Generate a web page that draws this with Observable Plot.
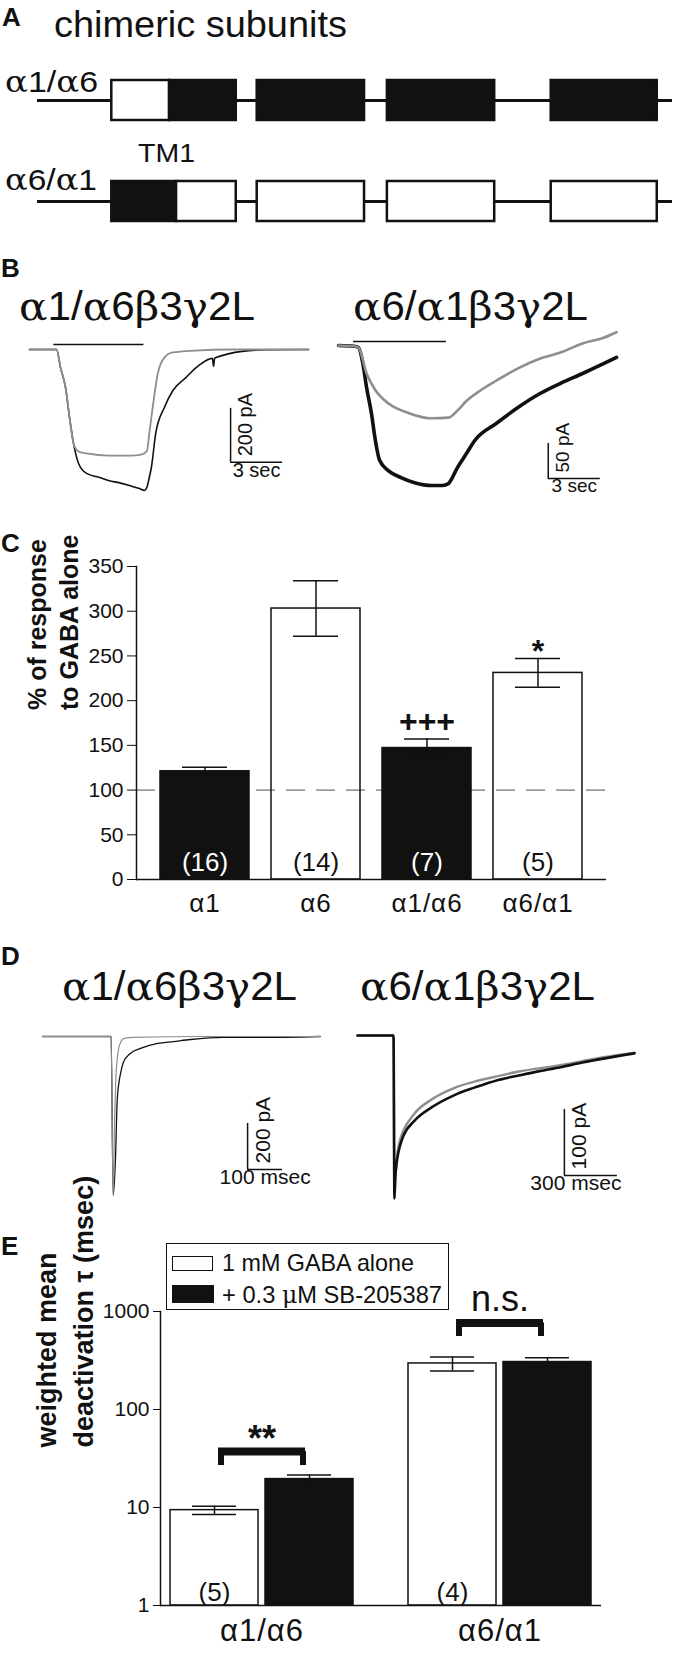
<!DOCTYPE html>
<html><head><meta charset="utf-8">
<script src="https://cdn.jsdelivr.net/npm/d3@7"></script>
<script src="https://cdn.jsdelivr.net/npm/@observablehq/plot@0.6"></script>
<style>
body{margin:0;background:#fff;}
#fig{position:relative;width:676px;height:1653px;font-family:"Liberation Sans",Arial,Helvetica,sans-serif;color:#111;overflow:hidden;background:#fff;}
.t{position:absolute;white-space:nowrap;line-height:1;transform-origin:0 0;}
.b{font-weight:bold;}
.g{font-family:"DejaVu Serif","Liberation Serif",serif;}
.pl{position:absolute;}
g[aria-label="x-axis tick label"] text{letter-spacing:1px;}
</style></head><body><div id="fig"></div>
<script>
// ================= DATA =================
// Panel A: chimeric subunit schematic (position along subunit, 0-100)
const subunitRows = ["α1/α6", "α6/α1"];
const subunitSpan = [0, 100];
const segRow    = ["α1/α6","α1/α6","α1/α6","α1/α6","α1/α6","α6/α1","α6/α1","α6/α1","α6/α1","α6/α1"];
const segStart  = [11.7, 20.8, 34.6, 55.1, 80.9, 11.7, 21.9, 34.6, 55.1, 80.9];
const segEnd    = [20.8, 31.3, 51.5, 72.0, 97.6, 21.9, 31.3, 51.5, 72.0, 97.6];
const segOrigin = ["α1","α6","α6","α6","α6","α6","α1","α1","α1","α1"];

// Panel B: current traces [time s, current pA]
const bLeftGABA = [[0,0],[1.56,0],[1.79,-67],[2.08,-141],[2.31,-252],[2.54,-348],[2.7,-370],[2.9,-380],[3.29,-385],[4.56,-393],[5.83,-393],[6.5,-388],[6.78,-375],[6.91,-311],[7.16,-189],[7.40,-89],[7.78,-30],[8.27,-11],[9.52,-4],[11.6,0],[16.1,0]];
const bLeftSB   = [[0,0],[1.56,0],[1.79,-67],[2.08,-141],[2.31,-252],[2.54,-348],[2.83,-422],[3.29,-459],[4.0,-473],[4.56,-485],[5.2,-494],[5.77,-504],[6.3,-514],[6.64,-522],[6.8,-505],[6.91,-474],[7.03,-437],[7.28,-311],[7.78,-215],[8.27,-152],[9.02,-104],[9.77,-59],[10.55,-33],[10.62,-62],[10.68,-32],[10.76,-30],[12.26,-7],[13.7,-1],[16.1,0]];
const bRightGABA = [[0,0],[0.9,-1],[1.15,-3],[1.62,-40],[2.13,-64],[2.89,-83],[4.10,-97],[5.37,-104],[6.35,-103],[6.9,-92],[7.39,-79],[8.2,-64],[9.12,-50],[10.33,-33],[11.6,-19],[12.81,-10],[14.08,3],[15.29,11],[16.04,19]];
const bRightSB   = [[0,0],[0.9,-1],[1.15,-3],[1.4,-25],[1.62,-60],[1.90,-97],[2.13,-136],[2.37,-164],[2.89,-179],[3.64,-189],[4.39,-196],[5.37,-200],[6.0,-200],[6.35,-197],[6.87,-174],[7.39,-154],[7.85,-136],[9.12,-111],[10.33,-89],[11.6,-69],[12.81,-54],[14.08,-40],[15.29,-26],[16.04,-17]];
const bLeftStim  = [{start: 1.4, end: 6.6}];
const bRightStim = [{start: 0.87, end: 6.23}];
const bLeftScale  = {t0: 11.6, i0: -418, dt: 3, di: 200, tLabel: "3 sec", iLabel: "200 pA"};
const bRightScale = {t0: 12.1, i0: -190, dt: 3, di: 50, tLabel: "3 sec", iLabel: "50 pA"};

// Panel C: % of response to GABA alone
const cSubunits = ["α1", "α6", "α1/α6", "α6/α1"];
const cPotentiation = [121, 303, 147, 231];
const cSEM = [4.5, 31, 10, 16];
const cN = ["(16)", "(14)", "(7)", "(5)"];
const cSig = ["", "", "+++", "*"];
const cNterm = ["α1", "α6", "α1", "α6"];
const cTicks = [0, 50, 100, 150, 200, 250, 300, 350];

// Panel D: deactivation traces [time ms, current pA]
const dLeftGABA = [[0,0],[196,0],[202,-691],[206,-365],[209,-200],[213,-104],[218,-50],[223,-26],[231,-9],[260,-4],[451,0],[794,0]];
const dLeftSB   = [[0,0],[196,0],[202,-691],[209,-509],[213,-291],[218,-205],[223,-161],[231,-113],[251,-74],[280,-52],[329,-30],[374,-22],[423,-13],[517,-4],[614,-4],[794,0]];
const dRightGABA = [[0,0],[204,0],[209,-247],[214,-215],[221,-190],[226,-178],[243,-156],[260,-144],[323,-118],[419,-97],[543,-80],[662,-70],[787,-62],[906,-55],[1149,-45],[1392,-33],[1568,-26]];
const dRightSB   = [[0,0],[204,0],[209,-247],[214,-215],[221,-195],[226,-185],[243,-165],[260,-152],[323,-129],[419,-109],[543,-91],[662,-79],[787,-68],[906,-61],[1030,-54],[1149,-48],[1273,-41],[1392,-35],[1568,-27]];
const dLeftScale  = {t0: 586, i0: -578, dt: 100, di: 200, tLabel: "100 msec", iLabel: "200 pA"};
const dRightScale = {t0: 1171, i0: -212, dt: 300, di: 100, tLabel: "300 msec", iLabel: "100 pA"};

// Panel E: weighted mean deactivation tau (msec)
const eSubunits = ["α1/α6", "α6/α1"];
const eConditions = ["1 mM GABA alone", "+ 0.3 μM SB-205387"];
const eTauGABA = [9.4, 295];
const eSemGABA = [0.9, 48];
const eTauSB = [19.5, 305];
const eSemSB = [2.0, 32];
const eN = ["(5)", "(4)"];
const eSig = ["**", "n.s."];
const eBracketTop = [37.3, 763];
const eBracketLeg = [26.8, 556];
const eTicks = [1, 10, 100, 1000];

// ================= DRAWING =================
const FONT = '"Liberation Sans", Arial, Helvetica, sans-serif';
const INK = "#111";
const GRAY = "#8e8e8e";
const fig = document.getElementById("fig");
const gk = s => s.replace(/[αβγμτ]/g, m => `<span class="g">${m}</span>`);

function label(html, x, base, size, cls = "", width = null) {
  const d = document.createElement("div");
  d.className = "t " + cls;
  d.innerHTML = html;
  d.style.left = x + "px";
  d.style.top = (base - 0.846 * size) + "px";
  d.style.fontSize = size + "px";
  fig.appendChild(d);
  if (width) {
    const w = d.getBoundingClientRect().width;
    if (w > 0) d.style.transform = `scaleX(${width / w})`;
  }
  return d;
}
function place(svg, left, top) {
  svg.classList.add("pl");
  svg.style.left = left + "px";
  svg.style.top = top + "px";
  fig.appendChild(svg);
}
const baseStyle = {fontFamily: FONT, background: "transparent", overflow: "visible", color: INK};

// ---- Panel A ----
label("A", 2, 26, 26, "b");
label("chimeric subunits", 54, 37, 37, "", 293);
label(gk(subunitRows[0]), 5, 92, 30, "", 93);
label(gk(subunitRows[1]), 5, 190, 30, "", 92);
label("TM1", 138, 162, 25, "", 57);

const segments = segRow.map((r, i) => ({row: r, start: segStart[i], end: segEnd[i], origin: segOrigin[i]}));
place(Plot.plot({
  width: 676, height: 200,
  style: baseStyle,
  x: {domain: [0, 100], range: [37, 672], axis: null},
  y: {type: "band", domain: subunitRows, range: [30, 171], paddingInner: 0.604, paddingOuter: 0, axis: null},
  color: {domain: ["α1", "α6"], range: ["white", INK]},
  marks: [
    Plot.ruleY(subunitRows, {y: d => d, x1: subunitSpan[0], x2: subunitSpan[1], stroke: INK, strokeWidth: 3}),
    Plot.barX(segments, {x1: "start", x2: "end", y: "row", fill: "origin", stroke: INK, strokeWidth: 2.5})
  ]
}), 0, 50);

// ---- Trace plots (B, D) ----
function tracePlot(c) {
  const sb = c.scale;
  const marks = [];
  if (c.stim) marks.push(Plot.ruleY(c.stim, {y: 0, x1: "start", x2: "end", dy: c.stimDy, stroke: INK, strokeWidth: 1.5}));
  const lines = [
    Plot.line(c.sb, {x: d => d[0], y: d => d[1], stroke: INK, strokeWidth: c.bw, curve: "monotone-x"}),
    Plot.line(c.gaba, {x: d => d[0], y: d => d[1], stroke: GRAY, strokeWidth: c.gw, curve: "monotone-x"})
  ];
  if (c.blackOnTop) lines.reverse();
  marks.push(...lines);
  marks.push(
    Plot.ruleX([sb], {x: "t0", y1: "i0", y2: d => d.i0 + d.di, stroke: INK, strokeWidth: 1.5}),
    Plot.ruleY([sb], {y: "i0", x1: "t0", x2: d => d.t0 + d.dt, stroke: INK, strokeWidth: 1.5}),
    Plot.text([sb], {x: "t0", y: "i0", text: "iLabel", rotate: -90, textAnchor: "start", lineAnchor: "top", dx: 7, dy: -6, fontSize: c.fs, fill: INK}),
    Plot.text([sb], {x: d => d.t0 + d.dt / 2, y: "i0", text: "tLabel", lineAnchor: "top", dx: c.tdx || 0, dy: 0, fontSize: c.fs, fill: INK})
  );
  return Plot.plot({
    width: c.width, height: c.height, style: baseStyle,
    x: {domain: c.xDomain, range: c.xRange, axis: null},
    y: {domain: c.yDomain, range: c.yRange, axis: null},
    marks
  });
}

label("B", 1, 277, 26, "b");
label(gk("α1/α6β3γ2L"), 19, 320, 40, "", 236);
label(gk("α6/α1β3γ2L"), 353, 320, 40, "", 235);
place(tracePlot({width: 330, height: 190, xDomain: [0, 17], xRange: [29, 323.7], yDomain: [-600, 100], yRange: [191, 2],
  gaba: bLeftGABA, sb: bLeftSB, stim: bLeftStim, stimDy: -5, scale: bLeftScale, bw: 1.6, gw: 1.8, fs: 20}), 0, 320);
place(tracePlot({width: 346, height: 190, xDomain: [0, 18], xRange: [8, 320], yDomain: [-240, 40], yRange: [193, -3],
  gaba: bRightGABA, sb: bRightSB, stim: bRightStim, stimDy: -4, scale: bRightScale, bw: 3.6, gw: 2.6, fs: 19}), 330, 320);

// ---- Panel C ----
label("C", 1, 552, 26, "b");
const cData = cSubunits.map((s, i) => ({s, v: cPotentiation[i], e: cSEM[i], n: cN[i], sig: cSig[i], nterm: cNterm[i]}));
place(Plot.plot({
  width: 676, height: 410, style: baseStyle,
  marginLeft: 136, marginRight: 70, marginTop: 46, marginBottom: 51,
  x: {domain: cSubunits, padding: 0.2},
  y: {domain: [0, 350]},
  color: {domain: ["α1", "α6"], range: [INK, "transparent"]},
  marks: [
    Plot.ruleY([100], {stroke: "#9a9a9a", strokeWidth: 1.8, strokeDasharray: "19,11"}),
    Plot.barY(cData, {x: "s", y: "v", fill: "nterm", stroke: INK, strokeWidth: 1.5}),
    Plot.ruleX(cData, {x: "s", y1: d => d.v - d.e, y2: d => d.v + d.e, stroke: INK, strokeWidth: 1.5}),
    Plot.tickY(cData, {x: "s", y: d => d.v + d.e, insetLeft: 22, insetRight: 22, stroke: INK, strokeWidth: 1.5}),
    Plot.tickY(cData, {x: "s", y: d => d.v - d.e, insetLeft: 22, insetRight: 22, stroke: INK, strokeWidth: 1.5}),
    Plot.text(cData, {x: "s", y: 0, dy: -17, text: "n", fill: d => d.nterm === "α1" ? "white" : INK, fontSize: 26}),
    Plot.text(cData, {x: "s", y: d => d.v + d.e, dy: -17, text: "sig", filter: d => d.sig === "+++", fontSize: 32, fontWeight: "bold", fill: INK}),
    Plot.text(cData, {x: "s", y: d => d.v + d.e, dy: -7, text: "sig", filter: d => d.sig === "*", fontSize: 32, fontWeight: "bold", fill: INK}),
    Plot.ruleY([0], {stroke: INK, strokeWidth: 1.5}),
    Plot.frame({anchor: "left", stroke: INK, strokeWidth: 1.5}),
    Plot.axisY({ticks: cTicks, tickFormat: d => String(d), tickSize: 9, tickPadding: 4, fontSize: 21, label: null, stroke: INK}),
    Plot.axisX({tickSize: 0, tickPadding: 14, fontSize: 26, label: null}),
    Plot.text(["% of response\nto GABA alone"], {text: d => d, frameAnchor: "left", rotate: -90, dx: -85, dy: -13, fontSize: 25, fontWeight: "bold", lineHeight: 1.28, fill: INK})
  ]
}), 0, 520);

// ---- Panel D ----
label("D", 1, 965, 26, "b");
label(gk("α1/α6β3γ2L"), 62, 1000, 40, "", 235);
label(gk("α6/α1β3γ2L"), 360, 1000, 40, "", 235);
place(tracePlot({width: 340, height: 200, xDomain: [0, 800], xRange: [42, 322], yDomain: [-760, 60], yRange: [190.8, 2.2],
  gaba: dLeftGABA, sb: dLeftSB, scale: dLeftScale, bw: 1.3, gw: 1.2, fs: 21}), 0, 1020);
place(tracePlot({width: 336, height: 200, xDomain: [0, 1800], xRange: [17, 335], yDomain: [-270, 20], yRange: [193.2, 1.8],
  gaba: dRightGABA, sb: dRightSB, scale: dRightScale, bw: 2.6, gw: 2.4, fs: 21, tdx: -15, blackOnTop: true}), 340, 1020);

// ---- Panel E ----
label("E", 1, 1255, 26, "b");
const eGABA = eSubunits.map((s, i) => ({s, v: eTauGABA[i], e: eSemGABA[i], n: eN[i]}));
const eSB = eSubunits.map((s, i) => ({s, v: eTauSB[i], e: eSemSB[i]}));
const eBr = eSubunits.map((s, i) => ({s, top: eBracketTop[i], leg: eBracketLeg[i], sig: eSig[i]}));
const OFF = 47.5;
const errMarks = (data, dx) => [
  Plot.ruleX(data, {x: "s", y1: d => d.v - d.e, y2: d => d.v + d.e, dx, stroke: INK, strokeWidth: 1.5}),
  Plot.tickY(data, {x: "s", y: d => d.v + d.e, dx, insetLeft: 69.5, insetRight: 69.5, stroke: INK, strokeWidth: 1.5}),
  Plot.tickY(data, {x: "s", y: d => d.v - d.e, dx, insetLeft: 69.5, insetRight: 69.5, stroke: INK, strokeWidth: 1.5})
];
place(Plot.plot({
  width: 676, height: 413, style: baseStyle,
  marginLeft: 160, marginRight: 75, marginTop: 71, marginBottom: 48,
  x: {domain: eSubunits, paddingInner: 0.232, paddingOuter: 0.042},
  y: {type: "log", domain: [1, 1000]},
  marks: [
    Plot.barY(eGABA, {x: "s", y1: 1, y2: "v", insetRight: 95, fill: "white", stroke: INK, strokeWidth: 1.5}),
    Plot.barY(eSB, {x: "s", y1: 1, y2: "v", insetLeft: 95, fill: INK, stroke: INK, strokeWidth: 1.5}),
    ...errMarks(eGABA, -OFF),
    ...errMarks(eSB, OFF),
    Plot.text(eGABA, {x: "s", y: 1, dx: -OFF, dy: -13, text: "n", fontSize: 26, fill: INK}),
    Plot.tickY(eBr, {x: "s", y: "top", insetLeft: 48, insetRight: 48, stroke: INK, strokeWidth: 8}),
    Plot.ruleX(eBr, {x: "s", y1: "leg", y2: "top", dx: -41, stroke: INK, strokeWidth: 6}),
    Plot.ruleX(eBr, {x: "s", y1: "leg", y2: "top", dx: 41, stroke: INK, strokeWidth: 6}),
    Plot.text(eBr, {x: "s", y: "top", text: "sig", filter: d => d.sig === "**", dy: -12, fontSize: 36, fontWeight: "bold", fill: INK}),
    Plot.text(eBr, {x: "s", y: "top", text: "sig", filter: d => d.sig !== "**", dy: -24, fontSize: 36, fill: INK}),
    Plot.ruleY([1], {stroke: INK, strokeWidth: 1.5}),
    Plot.frame({anchor: "left", stroke: INK, strokeWidth: 1.5}),
    Plot.axisY({ticks: eTicks, tickFormat: d => String(d), tickSize: 7, tickPadding: 4, fontSize: 21, label: null}),
    Plot.axisX({tickSize: 0, tickPadding: 13, fontSize: 31, label: null}),
    Plot.text(["weighted mean\ndeactivation τ (msec)"], {text: d => d, frameAnchor: "left", rotate: -90, dx: -97.5, dy: -11, fontSize: 27, fontWeight: "bold", lineHeight: 1.37, fill: INK})
  ]
}), 0, 1240);

// Legend for panel E
const leg = document.createElement("div");
leg.style.cssText = "position:absolute;left:166px;top:1243px;width:281px;height:65px;border:1.5px solid #111;background:#fff;";
fig.appendChild(leg);
const sw1 = document.createElement("div");
sw1.style.cssText = "position:absolute;left:172px;top:1256px;width:39px;height:13px;border:1.5px solid #111;background:#fff;";
fig.appendChild(sw1);
const sw2 = document.createElement("div");
sw2.style.cssText = "position:absolute;left:172px;top:1285px;width:42px;height:18px;background:#111;";
fig.appendChild(sw2);
label(gk(eConditions[0]), 222, 1271, 24, "", 192);
label(gk(eConditions[1]), 222, 1303, 24, "", 220);
</script></body></html>
